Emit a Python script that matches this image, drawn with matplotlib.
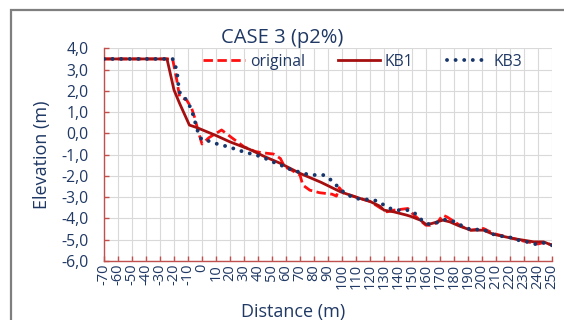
import numpy as np
import matplotlib
matplotlib.use("Agg")
import matplotlib.pyplot as plt
from matplotlib.patches import Rectangle

plt.rcParams['font.family'] = ['Open Sans', 'DejaVu Sans']

# perfiles (distancia m, elevacion m)
orig_x = [-70, -21, -18, -16, -11, -7.4, -5, -3, 0, 5, 14, 21, 30, 38, 43, 51, 56, 59, 64,
          70, 72, 77, 84, 93, 96, 98, 101, 110, 120, 128, 132, 137, 141, 147, 150, 157,
          160, 163, 168, 172, 175, 180, 185, 192, 198, 201, 205, 210, 220, 230, 240, 245, 250]
orig_y = [3.5, 3.5, 2.5, 1.72, 1.57, 1.18, 0.7, 0.16, -0.5, -0.2, 0.16, -0.19, -0.63, -0.85,
          -0.91, -0.97, -1.18, -1.57, -1.73, -1.96, -2.43, -2.67, -2.79, -2.86, -2.95, -2.55,
          -2.8, -3.0, -3.2, -3.53, -3.69, -3.61, -3.58, -3.53, -3.75, -4.16, -4.32, -4.32,
          -4.2, -3.84, -3.93, -4.14, -4.36, -4.55, -4.5, -4.47, -4.6, -4.74, -4.9, -5.07,
          -5.2, -5.12, -5.26]

kb1_x = [-70, -25, -20, -16, -9, -4, 10, 20, 34, 45, 56, 70, 85, 99, 113, 120, 127, 130,
         137, 146, 149, 156, 160, 164, 172, 177, 184, 192, 201, 208, 222, 237, 244, 250]
kb1_y = [3.5, 3.5, 2.04, 1.41, 0.39, 0.28, -0.1, -0.4, -0.75, -1.1, -1.41, -1.88, -2.3,
         -2.75, -3.06, -3.2, -3.42, -3.61, -3.69, -3.84, -3.9, -4.08, -4.28, -4.24, -4.08,
         -4.16, -4.36, -4.55, -4.55, -4.74, -4.94, -5.1, -5.1, -5.26]

kb3_x = [-70, -21, -18, -17, -15.7, -11, -7.4, -5, -2.6, 0, 5, 11, 17, 22, 28, 34, 40, 46,
         52, 58, 63, 69, 75, 81, 87, 93, 97, 101, 106, 112, 118, 125, 130, 136, 141, 148,
         153, 157, 162, 168, 174, 180, 185, 191, 196, 202, 208, 214, 220, 226, 232, 239,
         244, 250]
kb3_y = [3.5, 3.5, 2.98, 2.35, 1.88, 1.57, 1.1, 0.55, 0.0, -0.32, -0.36, -0.5, -0.6, -0.7,
         -0.83, -0.94, -1.05, -1.2, -1.38, -1.54, -1.69, -1.81, -1.92, -1.96, -1.96, -2.23,
         -2.51, -2.75, -2.95, -3.08, -3.11, -3.17, -3.37, -3.58, -3.61, -3.61, -3.8, -4.08,
         -4.27, -4.19, -4.05, -4.14, -4.32, -4.5, -4.52, -4.55, -4.74, -4.83, -4.89, -5.02,
         -5.1, -5.22, -5.15, -5.26]

xticks = list(range(-70, 251, 10))
yticks = list(range(-6, 5))
ytick_labels = [f"{v:.1f}".replace('.', ',') for v in yticks]

navy = '#1f3864'
axis_red = '#c0504d'

W, H = 564, 320
fig = plt.figure(figsize=(W / 100, H / 100), dpi=100)
ax = fig.add_axes([104 / W, 1 - 261 / H, 448 / W, (261 - 48.3) / H])

ax.plot(orig_x, orig_y, color='#ff1010', lw=2.0, linestyle=(0, (3.4, 1.6)), label='original', zorder=3)
ax.plot(kb1_x, kb1_y, color='#a50f0f', lw=2.0, label='KB1', zorder=4)
ax.plot(kb3_x, kb3_y, color='#17366b', lw=2.8, linestyle=(0, (0.01, 2.2)),
        dash_capstyle='round', label='KB3', zorder=5)

ax.set_xlim(-70, 250)
ax.set_ylim(-6, 4)
ax.set_xticks(xticks)
ax.set_xticklabels([str(v) for v in xticks], rotation=90)
ax.set_yticks(yticks)
ax.set_yticklabels(ytick_labels)
ax.grid(True, color='#d9d9d9', lw=0.8, zorder=0)
ax.set_axisbelow(True)

for s in ['top', 'right']:
    ax.spines[s].set_visible(False)
for s in ['left', 'bottom']:
    ax.spines[s].set_color(axis_red)
    ax.spines[s].set_linewidth(1.0)
ax.tick_params(axis='both', direction='in', length=3.5, width=1, color=axis_red,
               labelcolor=navy)
ax.tick_params(axis='y', pad=11, labelsize=11.3)
ax.tick_params(axis='x', pad=2, labelsize=10.5)

ax.legend(loc='center', bbox_to_anchor=(0.577, 0.936), ncol=3, frameon=False,
          fontsize=11.3, handlelength=2.7, handletextpad=0.3, columnspacing=2.1,
          labelcolor=navy)

fig.text(282 / W, 1 - 43 / H, 'CASE 3 (p2%)', ha='center', va='baseline', fontsize=14.5, color=navy)
fig.text(293 / W, 1 - 316.7 / H, 'Distance (m)', ha='center', va='baseline', fontsize=13, color=navy)
fig.text(42 / W, 1 - 154.6 / H, 'Elevation (m)', ha='center', va='center', rotation=90,
         fontsize=13, color=navy)

# marco del grafico (recortado)
fig.patches.append(Rectangle((11 / W, -0.1), 1.2, 1 - 10 / H + 0.1, transform=fig.transFigure,
                             fill=False, edgecolor='#7f7f7f', lw=1.6))

fig.savefig('out.png', dpi=100)
